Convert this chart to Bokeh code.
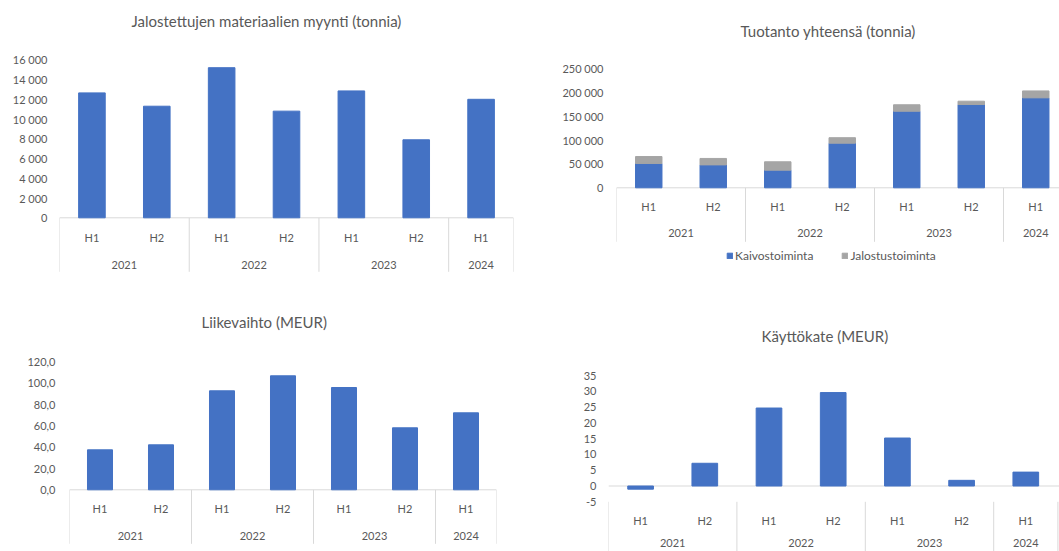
from bokeh.plotting import figure
from bokeh.layouts import column, row
from bokeh.models import Range1d, FixedTicker, Span, ColumnDataSource, Title
from bokeh.core.properties import value
from bokeh.embed import file_html
from bokeh.resources import INLINE

# ---------------- data ----------------
years = ["2021", "2021", "2022", "2022", "2023", "2023", "2024"]
halves = ["H1", "H2", "H1", "H2", "H1", "H2", "H1"]

sales_tonnes = [12650, 11300, 15200, 10800, 12850, 7900, 12000]
mining_tonnes = [51000, 48000, 37000, 93500, 160500, 174500, 188500]
refining_tonnes = [14500, 13500, 17500, 11500, 13500, 7000, 14500]
revenue_meur = [37.6, 42.3, 93.1, 107.2, 96.2, 58.3, 72.4]
ebitda_meur = [-1.0, 7.2, 24.7, 29.6, 15.2, 1.8, 4.4]

ticks_sales = [0, 2000, 4000, 6000, 8000, 10000, 12000, 14000, 16000]
labels_sales = ["0", "2 000", "4 000", "6 000", "8 000", "10 000", "12 000", "14 000", "16 000"]
ticks_prod = [0, 50000, 100000, 150000, 200000, 250000]
labels_prod = ["0", "50 000", "100 000", "150 000", "200 000", "250 000"]
ticks_rev = [0, 20, 40, 60, 80, 100, 120]
labels_rev = ["0,0", "20,0", "40,0", "60,0", "80,0", "100,0", "120,0"]
ticks_ebitda = [-5, 0, 5, 10, 15, 20, 25, 30, 35]
labels_ebitda = ["-5", "0", "5", "10", "15", "20", "25", "30", "35"]

series_names = ["Kaivostoiminta", "Jalostustoiminta"]

# ---------------- style ----------------
FONT = "Lato"
TXT = "#595959"
LINE = "#D9D9D9"
BLUE = "#4472C4"
GREY = "#A5A5A5"
BAR_W = 0.41

n = len(halves)
xs = [i + 0.5 for i in range(n)]
bounds = [0] + [i for i in range(1, n) if years[i] != years[i - 1]] + [n]
year_names = [years[b] for b in bounds[:-1]]
year_x = [(bounds[k] + bounds[k + 1]) / 2 for k in range(len(bounds) - 1)]


def make_chart(title, fig, frame, cat_px, top_px, base_px, ymax, ybase,
               ticks, tick_labels, t_offset, t_standoff, h_dy, y_dy, sep_len, std=12):
    fx, fy, w, h = fig            # figure box (page px)
    fl, ft, fr, fb = frame        # frame box (page px)
    scale = (ymax - ybase) / (base_px - top_px)
    y_end = ymax + (top_px - ft) * scale
    y_start = ybase - (fb - base_px) * scale
    p = figure(width=w, height=h, x_range=Range1d(0, (fr - fl) / cat_px),
               y_range=Range1d(y_start, y_end), output_backend="svg",
               toolbar_location=None, x_axis_location=None,
               min_border_left=fl - fx, min_border_right=fx + w - fr,
               min_border_top=ft - fy, min_border_bottom=fy + h - fb,
               outline_line_color=None, background_fill_color="white",
               border_fill_color="white")
    p.extra_y_ranges = {"px": Range1d(-(fb - base_px), base_px - ft)}
    p.grid.visible = False
    p.title = Title(text=title, align="left", offset=t_offset, standoff=t_standoff,
                    text_font=FONT, text_font_size="15px", text_color=TXT,
                    text_font_style="normal")
    ax = p.yaxis[0]
    ax.ticker = FixedTicker(ticks=ticks)
    ax.major_label_overrides = {t: l for t, l in zip(ticks, tick_labels)}
    ax.axis_line_color = None
    ax.major_tick_line_color = None
    ax.minor_tick_line_color = None
    ax.major_tick_out = 0
    ax.major_tick_in = 0
    ax.major_label_standoff = std
    ax.major_label_text_font = FONT
    ax.major_label_text_font_size = "11px"
    ax.major_label_text_color = TXT

    p.add_layout(Span(location=0, dimension="width", line_color=LINE, line_width=1,
                      level="underlay"))
    sep = ColumnDataSource(dict(x=bounds, y0=[0] * len(bounds), y1=[-sep_len] * len(bounds)))
    p.segment(x0="x", y0="y0", x1="x", y1="y1", source=sep, y_range_name="px",
              line_color=LINE, line_width=1)
    hs = ColumnDataSource(dict(x=xs, y=[h_dy] * n, t=halves))
    p.text(x="x", y="y", text="t", source=hs, y_range_name="px", text_align="center",
           text_baseline="middle", text_font=value(FONT), text_font_size="11px",
           text_color=TXT)
    ys = ColumnDataSource(dict(x=year_x, y=[y_dy] * len(year_x), t=year_names))
    p.text(x="x", y="y", text="t", source=ys, y_range_name="px", text_align="center",
           text_baseline="middle", text_font=value(FONT), text_font_size="11px",
           text_color=TXT)
    return p


# Chart 1
p1 = make_chart("Jalostettujen materiaalien myynti (tonnia)", (0, 0, 520, 300),
                (59, 38, 513, 280), 64.86, 59.3, 217.3, 16000, 0,
                ticks_sales, labels_sales, 72, 17, -20, -47, 54)
p1.vbar(x=xs, top=sales_tonnes, width=BAR_W, color=BLUE)

# Chart 2
p2 = make_chart("Tuotanto yhteensä (tonnia)", (520, 0, 539, 300),
                (616, 38, 1059, 280), 64.5, 68, 187.3, 250000, 0,
                ticks_prod, labels_prod, 124, -3, -19, -45.5, 54, std=13)
src2 = ColumnDataSource(dict(x=xs, kaivos=mining_tonnes, jalostus=refining_tonnes))
p2.vbar_stack(["kaivos", "jalostus"], x="x", width=BAR_W, color=[BLUE, GREY],
              source=src2, legend_label=series_names)
lg = p2.legend[0]
lg.location = (110, 17)
lg.orientation = "horizontal"
lg.glyph_width = 7
lg.glyph_height = 7
lg.label_standoff = 2
lg.spacing = 28
lg.padding = 0
lg.margin = 0
lg.label_height = 12
lg.border_line_color = None
lg.background_fill_alpha = 0
lg.label_text_font = FONT
lg.label_text_font_size = "12px"
lg.label_text_color = TXT

# Chart 3
p3 = make_chart("Liikevaihto (MEUR)", (0, 300, 520, 251),
                (69, 340, 496, 551), 61.0, 361.7, 489.3, 120, 0,
                ticks_rev, labels_rev, 132, 19, -19, -46, 54, std=14)
p3.vbar(x=xs, top=revenue_meur, width=BAR_W, color=BLUE)

# Chart 4
p4 = make_chart("Käyttökate (MEUR)", (520, 300, 539, 251),
                (608, 340, 1059, 551), 64.2, 375, 501.3, 35, -5,
                ticks_ebitda, labels_ebitda, 153, -9, -19, -41, 50)
p4.vbar(x=xs, top=ebitda_meur, bottom=0, width=0.40, color=BLUE)

layout = column(row(p1, p2, spacing=0), row(p3, p4, spacing=0), spacing=0)

with open("out.html", "w") as f:
    f.write(file_html(layout, INLINE))
